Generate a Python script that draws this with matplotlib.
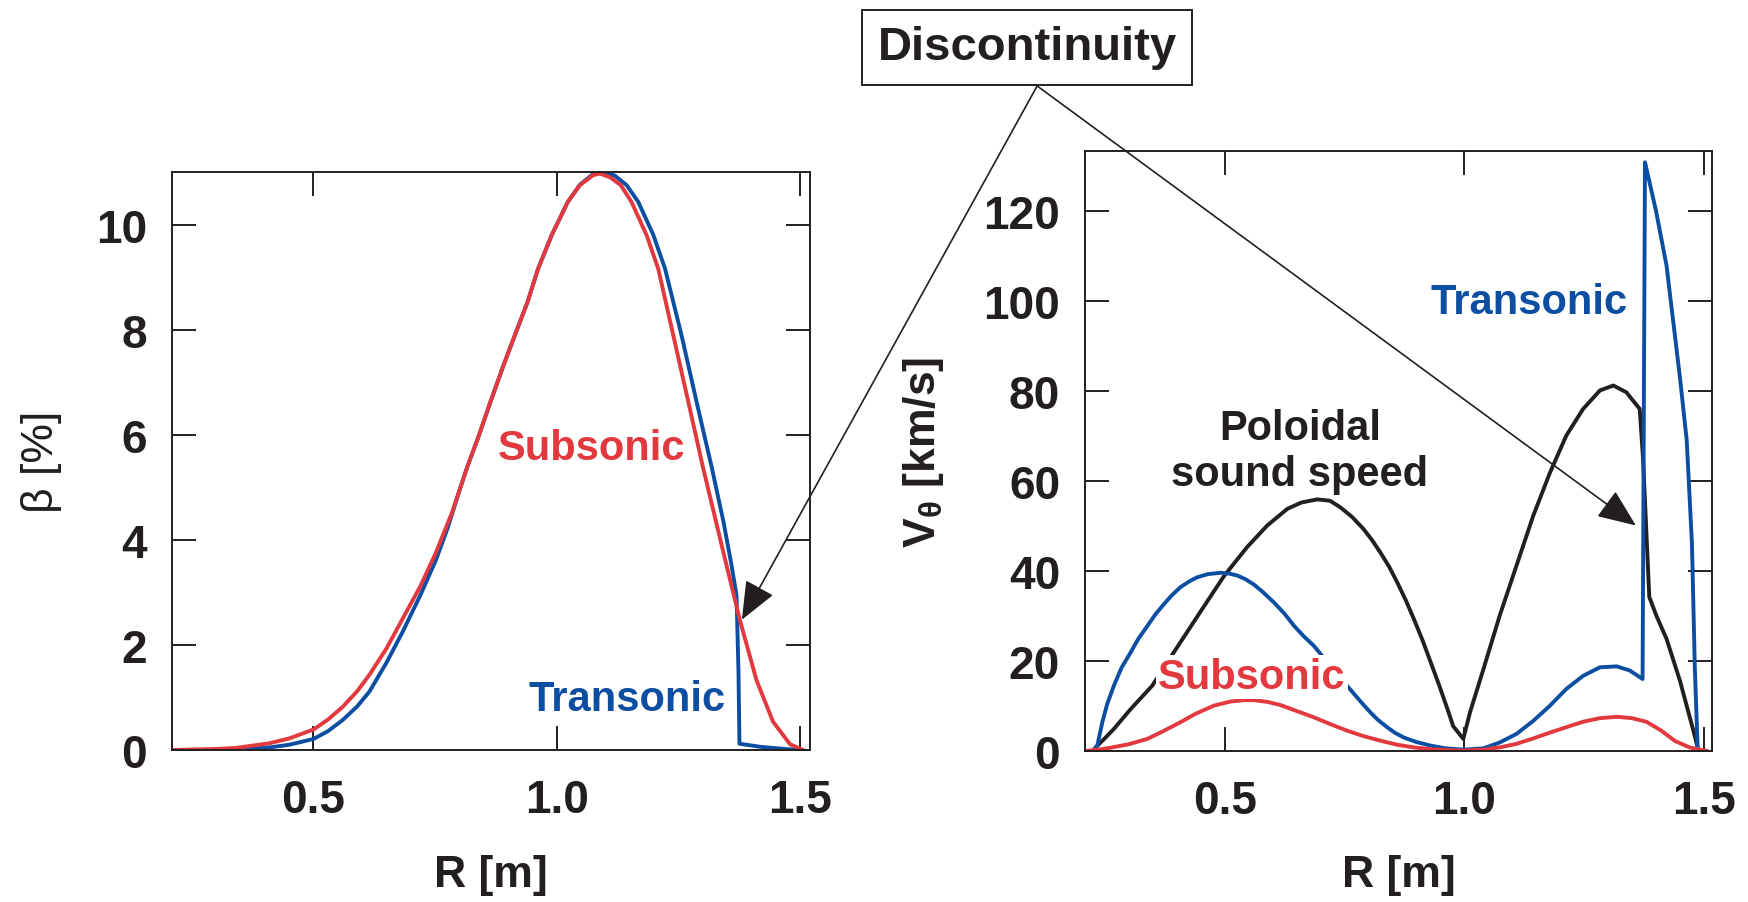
import matplotlib.pyplot as plt

# left panel: beta profiles
r_beta_sub = [0.209, 0.25, 0.30, 0.341, 0.41, 0.45, 0.50, 0.53, 0.56, 0.59, 0.615, 0.65, 0.684,
              0.72, 0.752, 0.785, 0.816, 0.84, 0.863, 0.89, 0.914, 0.94, 0.962, 0.99, 1.023,
              1.048, 1.075, 1.089, 1.11, 1.132, 1.154, 1.185, 1.209, 1.24, 1.271, 1.301, 1.343,
              1.377, 1.411, 1.445, 1.48, 1.507]
beta_sub = [0, 0.01, 0.02, 0.04, 0.13, 0.22, 0.39, 0.58, 0.82, 1.12, 1.43, 1.93, 2.51,
            3.12, 3.76, 4.52, 5.38, 5.98, 6.6, 7.3, 7.89, 8.52, 9.16, 9.8, 10.43,
            10.75, 10.94, 10.97, 10.9, 10.75, 10.43, 9.8, 9.16, 7.89, 6.62, 5.38, 3.76,
            2.47, 1.33, 0.54, 0.11, 0.0]
r_beta_tra = [0.209, 0.30, 0.341, 0.41, 0.45, 0.50, 0.53, 0.56, 0.59, 0.615, 0.65, 0.684, 0.72,
              0.752, 0.775, 0.80, 0.816, 0.84, 0.863, 0.89, 0.914, 0.94, 0.962, 0.99, 1.023,
              1.048, 1.075, 1.099, 1.12, 1.144, 1.168, 1.199, 1.223, 1.257, 1.288, 1.319, 1.343,
              1.360, 1.370, 1.374, 1.376, 1.42, 1.47, 1.50]
beta_tra = [0, 0.0, 0.01, 0.05, 0.10, 0.21, 0.36, 0.57, 0.83, 1.11, 1.66, 2.26, 2.95,
            3.62, 4.2, 4.93, 5.38, 5.98, 6.6, 7.3, 7.89, 8.52, 9.16, 9.8, 10.43,
            10.76, 10.96, 11.0, 10.93, 10.75, 10.43, 9.8, 9.16, 7.89, 6.62, 5.38, 4.35,
            3.5, 2.94, 1.5, 0.12, 0.06, 0.02, 0.0]

# right panel: poloidal velocity
r_v_sub = [0.209, 0.25, 0.30, 0.339, 0.37, 0.408, 0.44, 0.478, 0.513, 0.54, 0.561, 0.59, 0.617,
           0.65, 0.686, 0.72, 0.756, 0.79, 0.825, 0.86, 0.895, 0.93, 0.965, 1.0, 1.04, 1.074,
           1.109, 1.144, 1.179, 1.213, 1.248, 1.283, 1.318, 1.35, 1.38, 1.41, 1.44, 1.47, 1.506]
v_sub = [0, 0.5, 1.5, 2.7, 4.3, 6.4, 8.3, 10.1, 11.0, 11.3, 11.3, 10.9, 10.2,
         8.9, 7.5, 6.0, 4.5, 3.3, 2.3, 1.4, 0.8, 0.4, 0.2, 0.1, 0.3, 0.8,
         1.6, 2.8, 4.1, 5.3, 6.5, 7.3, 7.6, 7.3, 6.5, 4.6, 2.2, 0.8, 0]
r_v_tra = [0.225, 0.2345, 0.245, 0.255, 0.269, 0.285, 0.304, 0.32, 0.339, 0.356, 0.374, 0.39,
           0.408, 0.425, 0.443, 0.465, 0.492, 0.51, 0.526, 0.543, 0.561, 0.58, 0.603, 0.625,
           0.645, 0.665, 0.686, 0.71, 0.74, 0.77, 0.787, 0.804, 0.82, 0.839, 0.856, 0.874,
           0.90, 0.93, 0.96, 0.999, 1.04, 1.074, 1.109, 1.144, 1.179, 1.213, 1.248, 1.283,
           1.318, 1.345, 1.372, 1.377, 1.40, 1.422, 1.45, 1.464, 1.475, 1.481, 1.487]
v_tra = [0, 1.2, 6.4, 10.4, 14.5, 18.5, 21.9, 24.9, 27.8, 30.4, 32.7, 34.6,
         36.4, 37.6, 38.6, 39.3, 39.6, 39.4, 39.0, 38.2, 37.0, 35.3, 33.0, 30.5,
         27.8, 25.5, 23.4, 20.3, 16.4, 12.7, 10.6, 8.6, 6.9, 5.3, 4.0, 3.0,
         2.0, 1.2, 0.6, 0.3, 0.6, 1.9, 3.8, 6.7, 10.1, 13.8, 16.7, 18.6,
         18.8, 17.9, 16.0, 130.8, 120.0, 107.8, 82.9, 69.1, 46.0, 18.4, 0.3]
r_cs = [0.231, 0.25, 0.269, 0.304, 0.349, 0.394, 0.45, 0.499, 0.547, 0.589, 0.631, 0.66, 0.693,
        0.72, 0.742, 0.766, 0.79, 0.808, 0.825, 0.843, 0.86, 0.878, 0.895, 0.913, 0.93, 0.948,
        0.965, 0.977, 0.998, 1.012, 1.04, 1.074, 1.109, 1.144, 1.179, 1.213, 1.248, 1.283,
        1.311, 1.338, 1.366, 1.373, 1.386, 1.401, 1.422, 1.45, 1.478, 1.488]
v_cs = [0.8, 2.8, 4.9, 9.3, 14.5, 21.9, 31.0, 38.9, 45.3, 50.1, 53.8, 55.2, 55.9,
        55.6, 54.1, 52.0, 49.3, 46.8, 44.1, 41.0, 37.5, 33.5, 29.3, 24.6, 19.7, 14.5,
        9.3, 5.5, 2.7, 8.6, 18.2, 30.1, 41.2, 52.3, 61.9, 70.1, 76.0, 80.1,
        81.2, 79.7, 76.0, 64.9, 34.2, 30.0, 24.9, 15.6, 4.5, 0.3]

blue = '#0b4ea2'
red = '#e2393f'
black = '#231f20'

plt.rcParams['font.family'] = ['Liberation Sans', 'DejaVu Sans']
plt.rcParams['font.weight'] = 'bold'
plt.rcParams['axes.labelweight'] = 'bold'
plt.rcParams['mathtext.default'] = 'regular'

fig = plt.figure(figsize=(17.49, 9.03), dpi=100)
ax1 = fig.add_axes([0.0983, 0.1683, 0.3648, 0.6401])
ax2 = fig.add_axes([0.6204, 0.1672, 0.3585, 0.6645])

for ax in (ax1, ax2):
    ax.tick_params(direction='in', length=17, width=1.4, top=True, right=True,
                   labelsize=33, color=black, labelcolor=black)
    ax.tick_params(axis='y', pad=18)
    ax.tick_params(axis='x', pad=20)
    for s in ax.spines.values():
        s.set_linewidth(1.4)
        s.set_color(black)
    ax.set_xticks([0.5, 1.0, 1.5])
    ax.set_xticklabels(['0.5', '1.0', '1.5'])
    ax.set_xlabel('R [m]', fontsize=32, color=black)
    ax.set_axisbelow(True)

lw = 2.8

# left
ax1.plot(r_beta_tra, beta_tra, color=blue, lw=lw, solid_joinstyle='round')
ax1.plot(r_beta_sub, beta_sub, color=red, lw=lw, solid_joinstyle='round')
ax1.set_xlim(0.209, 1.521)
ax1.set_ylim(0, 11)
ax1.set_yticks([0, 2, 4, 6, 8, 10])
ax1.set_ylabel('β [%]', fontsize=32, fontweight='normal', color=black)
ax1.yaxis.set_label_coords(-0.172, 0.5)
ax1.xaxis.set_label_coords(0.5, -0.18)
ax1.text(1.071, 5.75, 'Subsonic', color=red, fontsize=30, ha='center', va='center')
ax1.text(1.144, 0.97, 'Transonic', color=blue, fontsize=30, ha='center', va='center')

# right
ax2.plot(r_cs, v_cs, color=black, lw=lw, solid_joinstyle='round')
ax2.plot(r_v_tra, v_tra, color=blue, lw=lw, solid_joinstyle='round')
ax2.plot(r_v_sub, v_sub, color=red, lw=lw, solid_joinstyle='round')
ax2.set_xlim(0.209, 1.517)
ax2.set_ylim(0, 133.3)
ax2.set_yticks([0, 20, 40, 60, 80, 100, 120])
ax2.set_ylabel(r'V$_{\theta}$ [km/s]', fontsize=32, color=black)
ax2.yaxis.set_label_coords(-0.222, 0.5)
ax2.xaxis.set_label_coords(0.5, -0.172)
ax2.text(1.135, 99.8, 'Transonic', color=blue, fontsize=30, ha='center', va='center')
ax2.text(0.557, 16.4, 'Subsonic', color=red, fontsize=30, ha='center', va='center', zorder=5,
         bbox=dict(boxstyle='square,pad=0.05', fc='white', ec='none'))
ax2.text(0.657, 66.7, 'Poloidal\nsound speed', color=black, fontsize=30, ha='center',
         va='center', linespacing=1.19)

# discontinuity label + arrows
fig.text(0.5872, 0.9463, 'Discontinuity', fontsize=34, ha='center', va='center', color=black,
         bbox=dict(boxstyle='square,pad=0.32', fc='white', ec=black, lw=1.4))
arrow = dict(arrowstyle='-|>,head_length=1.2,head_width=0.5', mutation_scale=20,
             lw=1.2, color=black, shrinkA=0, shrinkB=0)
ax1.annotate('', xy=(1.381, 2.48), xytext=(0.593, 0.9037), textcoords='figure fraction',
             arrowprops=arrow)
ax2.annotate('', xy=(1.358, 50.1), xytext=(0.593, 0.9037), textcoords='figure fraction',
             arrowprops=arrow)

fig.savefig('out.png', dpi=100)
